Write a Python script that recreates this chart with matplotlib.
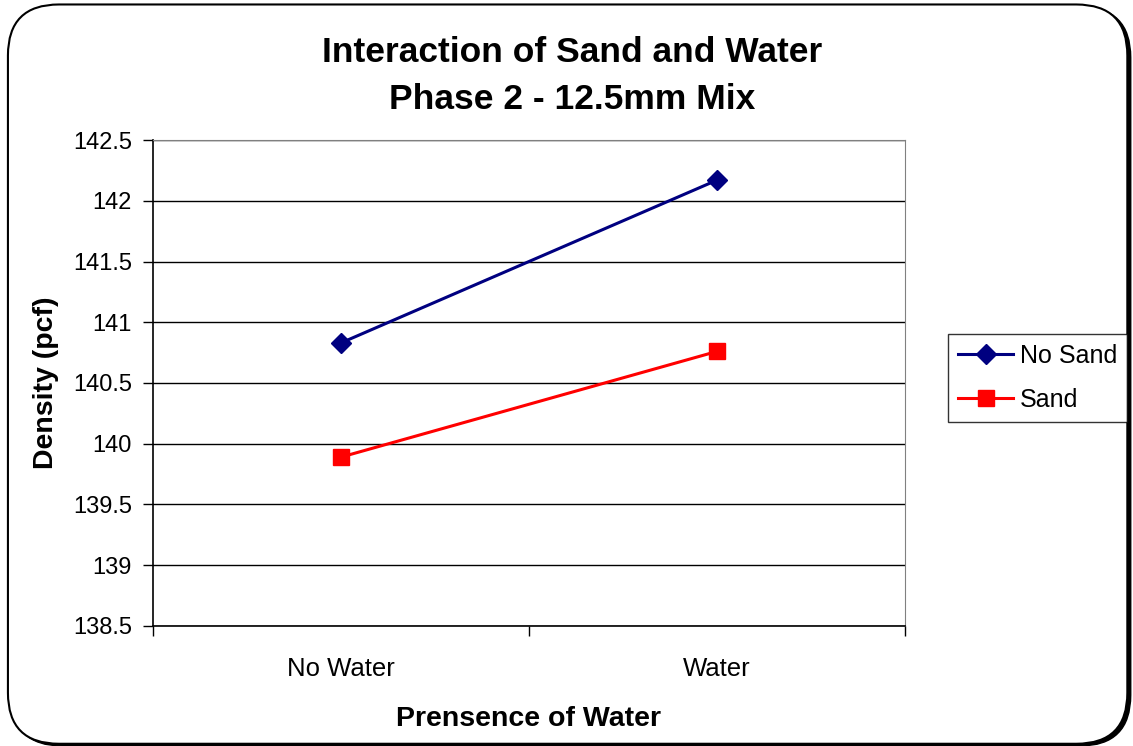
import matplotlib
matplotlib.use("Agg")
import matplotlib.pyplot as plt
from matplotlib.patches import FancyBboxPatch
from matplotlib.ticker import FuncFormatter

plt.rcParams["font.family"] = ["Liberation Sans", "DejaVu Sans"]

# Data
categories = ["No Water", "Water"]
no_sand = [140.83, 142.17]
sand = [139.89, 140.76]
y_ticks = [138.5, 139, 139.5, 140, 140.5, 141, 141.5, 142, 142.5]

fig = plt.figure(figsize=(11.33, 7.46), dpi=100)

# rounded chart border with shadow
shadow = FancyBboxPatch((0.010, 0.0), 0.988, 0.991, boxstyle="round,pad=0,rounding_size=0.045",
                        transform=fig.transFigure, facecolor="black", edgecolor="black",
                        mutation_aspect=1133 / 746, zorder=-2)
border = FancyBboxPatch((0.007, 0.003), 0.988, 0.991, boxstyle="round,pad=0,rounding_size=0.045",
                        transform=fig.transFigure, facecolor="white", edgecolor="black",
                        linewidth=1.5, mutation_aspect=1133 / 746, zorder=-1)
fig.patches.extend([shadow, border])

ax = fig.add_axes([0.1350, 0.1609, 0.7988 - 0.1350, 0.8123 - 0.1609])

x = [0.5, 1.5]
ax.plot(x, no_sand, color="#000080", linewidth=2.2, marker="D", markersize=10,
        label="No Sand", zorder=3)
ax.plot(x, sand, color="#FF0000", linewidth=2.2, marker="s", markersize=11,
        label="Sand", zorder=3)

ax.set_xlim(0, 2)
ax.set_ylim(138.5, 142.5)
ax.set_yticks(y_ticks)
ax.yaxis.set_major_formatter(FuncFormatter(lambda v, p: f"{v:g}"))
ax.set_xticks([0, 1, 2])
ax.set_xticklabels([])
ax.set_xticks(x, minor=True)
ax.set_xticklabels(categories, minor=True)
ax.tick_params(axis="x", which="minor", length=0, pad=22, labelsize=18.5)
ax.tick_params(axis="x", which="major", length=7, direction="out", width=1)
ax.tick_params(axis="y", length=7, direction="out", width=1, labelsize=17, pad=8)

ax.grid(axis="y", color="black", linewidth=1)
ax.set_axisbelow(True)
for s in ["top", "right"]:
    ax.spines[s].set_color("#808080")
for s in ["left", "bottom"]:
    ax.spines[s].set_color("black")
    ax.spines[s].set_linewidth(1.2)

ax.set_ylabel("Density (pcf)", fontsize=20.5, fontweight="bold", labelpad=10)
ax.set_xlabel("Prensence of Water", fontsize=20.5, fontweight="bold", labelpad=18)
fig.text(0.505, 0.930, "Interaction of Sand and Water", ha="center", va="center",
         fontsize=25.5, fontweight="bold")
fig.text(0.505, 0.866, "Phase 2 - 12.5mm Mix", ha="center", va="center",
         fontsize=25.5, fontweight="bold")

leg = ax.legend(loc="center left", bbox_to_anchor=(0.837, 0.4933), bbox_transform=fig.transFigure,
                fontsize=18, frameon=True, fancybox=False, edgecolor="black",
                handlelength=2.2, borderpad=0.4, labelspacing=0.8, handletextpad=0.25,
                borderaxespad=0)
leg.get_frame().set_linewidth(1)

fig.savefig("out.png", dpi=100)
